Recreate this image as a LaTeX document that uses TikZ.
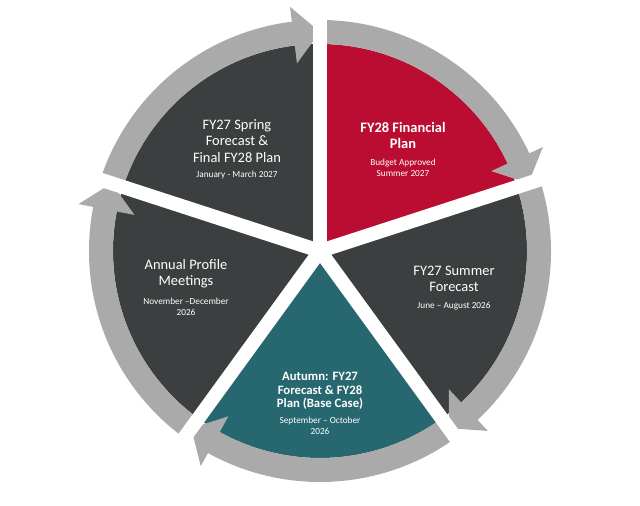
\documentclass[tikz,border=0pt]{standalone}
\usepackage{fontspec}
\setmainfont{Carlito}
\definecolor{slate}{HTML}{3C3F40}
\definecolor{budgetred}{HTML}{BB0D31}
\definecolor{autumnteal}{HTML}{27676F}
\definecolor{ringgrey}{HTML}{AAAAAA}
\tikzset{
	phasetitle/.style={text=white, align=center, font=\fontsize{14.5}{16.3}\selectfont},
	boldtitle/.style={text=white, align=center, font=\fontsize{14.5}{17}\selectfont\bfseries},
	phasedate/.style={text=white, align=center, font=\fontsize{9.3}{10.5}\selectfont},
	gapcut/.style={white, line width=14bp, line cap=round},
}
% wedge: start angle, end angle, colour
\newcommand{\phasewedge}[3]{%
	\fill[#3] (0,0) -- (#1:207bp) arc[start angle=#1, end angle=#2, radius=207bp] -- cycle;}
% ring arrow running clockwise from #1 to #2
\newcommand{\phasearrow}[2]{%
	\fill[ringgrey] (#1:207bp) arc[start angle=#1, end angle={#2+7}, radius=207bp]
		-- ({#2+7}:189bp) -- (#2:219bp) -- ({#2+7}:246bp) -- ({#2+7}:231bp)
		arc[start angle={#2+7}, end angle=#1, radius=231bp] -- cycle;}
\begin{document}
\begin{tikzpicture}[x=1bp,y=1bp]
	\useasboundingbox (0,0) rectangle (640,506);
	\fill[white] (0,0) rectangle (640,506);
	
	\begin{scope}[shift={(320,255)}]
		\phasewedge{162}{90}{slate}
		\phasewedge{90}{18}{budgetred}
		\phasewedge{18}{-54}{slate}
		\phasewedge{-54}{-126}{autumnteal}
		\phasewedge{-126}{-198}{slate}
		
		\phasearrow{162}{90}
		\phasearrow{90}{18}
		\phasearrow{18}{-54}
		\phasearrow{-54}{-126}
		\phasearrow{-126}{-198}
		
		\foreach \cut in {90,18,-54,-126,162}
			\draw[gapcut] (0,0) -- (\cut:262bp);
	\end{scope}
	
	\node[phasetitle] (springtitle) at (237,365) {FY27 Spring\\Forecast \&\\Final FY28 Plan};
	\node[phasedate] (springdate) at (237,331) {January - March 2027};
	
	\node[boldtitle] (plantitle) at (403,370.5) {FY28 Financial\\Plan};
	\node[phasedate] (plandate) at (403,338) {Budget Approved\\Summer 2027};
	
	\node[phasetitle] (summertitle) at (454,227.5) {FY27 Summer\\Forecast};
	\node[phasedate] (summerdate) at (454,200) {June – August 2026};
	
	\node[boldtitle, font=\fontsize{12.8}{13.5}\selectfont\bfseries] (autumntitle) at (320,115) {Autumn: FY27\\Forecast \& FY28\\Plan (Base Case)};
	\node[phasedate] (autumndate) at (320,80) {September – October\\2026};
	
	\node[phasetitle] (profiletitle) at (186,232) {Annual Profile\\Meetings};
	\node[phasedate] (profiledate) at (186,199) {November –December\\2026};
	
\end{tikzpicture}
\end{document}
